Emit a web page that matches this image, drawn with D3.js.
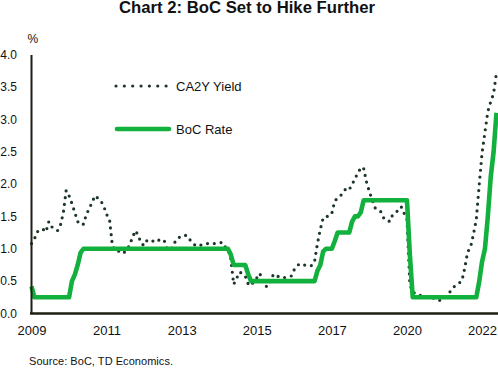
<!DOCTYPE html>
<html><head><meta charset="utf-8">
<script src="https://cdn.jsdelivr.net/npm/d3@7"></script>
<style>
body{margin:0;background:#fff;}
svg{display:block;font-family:"Liberation Sans",Arial,sans-serif;}
</style></head><body>
<svg id="c" width="498" height="369"></svg>
<script>
// ---- data ----
const startMonth = "2009-04";
const endMonth = "2022-09";
const tickMonths = ["2009-04","2011-06","2013-08","2015-10","2017-12","2020-02","2022-04"];
const tickLabels = ["2009","2011","2013","2015","2017","2020","2022"];
const yTicks = [0,0.5,1,1.5,2,2.5,3,3.5,4];
const seriesNames = ["CA2Y Yield","BoC Rate"];

// Canada 2-year yield, monthly (Apr 2009 - Sep 2022)
const yieldValues = [
  1.08,1.15,1.26,1.30,1.30,1.26,1.42,1.34,1.30,
  1.28,1.36,1.55,1.90,1.82,1.70,1.56,1.42,1.37,1.38,1.53,1.62,
  1.72,1.82,1.78,1.74,1.66,1.53,1.46,1.05,0.97,0.97,0.93,0.94,
  0.98,1.06,1.18,1.28,1.20,1.08,1.05,1.13,1.14,1.12,1.10,1.13,
  1.15,1.12,1.00,0.98,1.03,1.14,1.17,1.20,1.21,1.20,1.13,1.08,
  1.04,1.05,1.06,1.07,1.08,1.08,1.08,1.08,1.09,1.10,1.03,1.00,
  0.85,0.45,0.54,0.64,0.62,0.58,0.46,0.43,0.50,0.55,0.62,0.52,
  0.42,0.42,0.55,0.61,0.58,0.56,0.55,0.56,0.57,0.58,0.68,0.74,
  0.77,0.76,0.74,0.74,0.74,0.80,1.08,1.30,1.48,1.50,1.50,1.55,
  1.74,1.78,1.82,1.87,1.94,1.92,1.98,2.10,2.15,2.26,2.24,2.03,
  1.88,1.75,1.63,1.61,1.57,1.47,1.46,1.42,1.52,1.55,1.60,1.65,
  1.55,1.45,0.45,0.33,0.31,0.28,0.28,0.26,0.26,0.25,0.24,0.22,
  0.20,0.21,0.25,0.29,0.34,0.40,0.44,0.47,0.50,0.70,0.95,1.02,
  1.22,1.45,1.98,2.48,2.80,3.12,3.27,3.40,3.72
];

// Bank of Canada policy rate, monthly average (Apr 2009 - Sep 2022)
const bocValues = [
  0.42,0.25,0.25,0.25,0.25,0.25,0.25,0.25,0.25,
  0.25,0.25,0.25,0.25,0.25,0.50,0.60,0.75,0.94,1.00,1.00,1.00,
  1.00,1.00,1.00,1.00,1.00,1.00,1.00,1.00,1.00,1.00,1.00,1.00,
  1.00,1.00,1.00,1.00,1.00,1.00,1.00,1.00,1.00,1.00,1.00,1.00,
  1.00,1.00,1.00,1.00,1.00,1.00,1.00,1.00,1.00,1.00,1.00,1.00,
  1.00,1.00,1.00,1.00,1.00,1.00,1.00,1.00,1.00,1.00,1.00,1.00,
  0.91,0.75,0.75,0.75,0.75,0.75,0.61,0.50,0.50,0.50,0.50,0.50,
  0.50,0.50,0.50,0.50,0.50,0.50,0.50,0.50,0.50,0.50,0.50,0.50,
  0.50,0.50,0.50,0.50,0.50,0.50,0.66,0.75,0.96,1.00,1.00,1.00,
  1.12,1.25,1.25,1.25,1.25,1.25,1.42,1.50,1.50,1.56,1.75,1.75,
  1.75,1.75,1.75,1.75,1.75,1.75,1.75,1.75,1.75,1.75,1.75,1.75,
  1.75,1.75,0.91,0.25,0.25,0.25,0.25,0.25,0.25,0.25,0.25,0.25,
  0.25,0.25,0.25,0.25,0.25,0.25,0.25,0.25,0.25,0.25,0.25,0.25,
  0.25,0.25,0.49,0.80,1.00,1.50,2.11,2.50,3.10
];

// ---- chart ----
const fmt = d3.timeFormat("%Y-%m");
const parse = d3.timeParse("%Y-%m");
const months = d3.timeMonth.range(parse(startMonth), d3.timeMonth.offset(parse(endMonth), 1)).map(fmt);

const svg = d3.select("#c");
const ink = "#111111";
const axisCol = "#1c1f12";
const green = "#12b03c";
const dotCol = "#1d3628";

const x = d3.scalePoint().domain(months).range([31.5, 496.5]);
const y = d3.scaleLinear().domain([0, 4]).range([313.5, 54.5]);

// title
svg.append("text").attr("x", 247).attr("y", 13).attr("text-anchor", "middle")
  .attr("font-size", 16).attr("font-weight", "bold").attr("fill", ink)
  .attr("textLength", 256).attr("lengthAdjust", "spacingAndGlyphs")
  .text("Chart 2: BoC Set to Hike Further");

// unit
svg.append("text").attr("x", 27.5).attr("y", 43).attr("font-size", 12).attr("fill", ink).text("%");

// lines
const lineY = d3.line().x((d, i) => x(months[i])).y(d => y(d));
svg.append("path").datum(yieldValues).attr("d", lineY)
  .attr("fill", "none").attr("stroke", dotCol).attr("stroke-width", 3.2)
  .attr("stroke-linecap", "round").attr("stroke-dasharray", "0 6.8");
svg.append("path").datum(bocValues).attr("d", lineY)
  .attr("fill", "none").attr("stroke", green).attr("stroke-width", 4.6)
  .attr("stroke-linejoin", "round");

// axes
const gx = svg.append("g").attr("transform", `translate(0,${y(0)})`)
  .call(d3.axisBottom(x).tickValues(tickMonths)
    .tickFormat(d => tickLabels[tickMonths.indexOf(d)])
    .tickSize(0).tickSizeOuter(0).tickPadding(12));
gx.select(".domain").attr("d", `M${x.range()[0] - 1.5},0H498`)
  .attr("stroke", axisCol).attr("stroke-width", 2.5);
gx.selectAll("text").attr("font-size", 13).attr("fill", ink)
  .attr("font-family", "'Liberation Sans',Arial,sans-serif");

const gy = svg.append("g").attr("transform", `translate(${x.range()[0] - 0.5},0)`)
  .call(d3.axisLeft(y).tickValues(yTicks).tickFormat(d3.format(".1f"))
    .tickSize(0).tickSizeOuter(0).tickPadding(14));
gy.select(".domain").attr("stroke", axisCol).attr("stroke-width", 2);
gy.selectAll("text").attr("font-size", 12).attr("fill", ink)
  .attr("font-family", "'Liberation Sans',Arial,sans-serif");

// legend
const leg = svg.append("g");
leg.append("line").attr("x1", 116).attr("x2", 166.1).attr("y1", 86).attr("y2", 86)
  .attr("stroke", dotCol).attr("stroke-width", 3.2).attr("stroke-linecap", "round")
  .attr("stroke-dasharray", "0 8.35");
leg.append("text").attr("x", 176).attr("y", 86).attr("dy", "0.35em")
  .attr("font-size", 13).attr("fill", ink).text(seriesNames[0]);
leg.append("line").attr("x1", 117).attr("x2", 169).attr("y1", 129).attr("y2", 129)
  .attr("stroke", green).attr("stroke-width", 4.6).attr("stroke-linecap", "round");
leg.append("text").attr("x", 176).attr("y", 129).attr("dy", "0.35em")
  .attr("font-size", 13).attr("fill", ink).text(seriesNames[1]);

// source
svg.append("text").attr("x", 29).attr("y", 365).attr("font-size", 11).attr("fill", ink)
  .attr("textLength", 144).attr("lengthAdjust", "spacing")
  .text("Source: BoC, TD Economics.");
</script>
</body></html>
